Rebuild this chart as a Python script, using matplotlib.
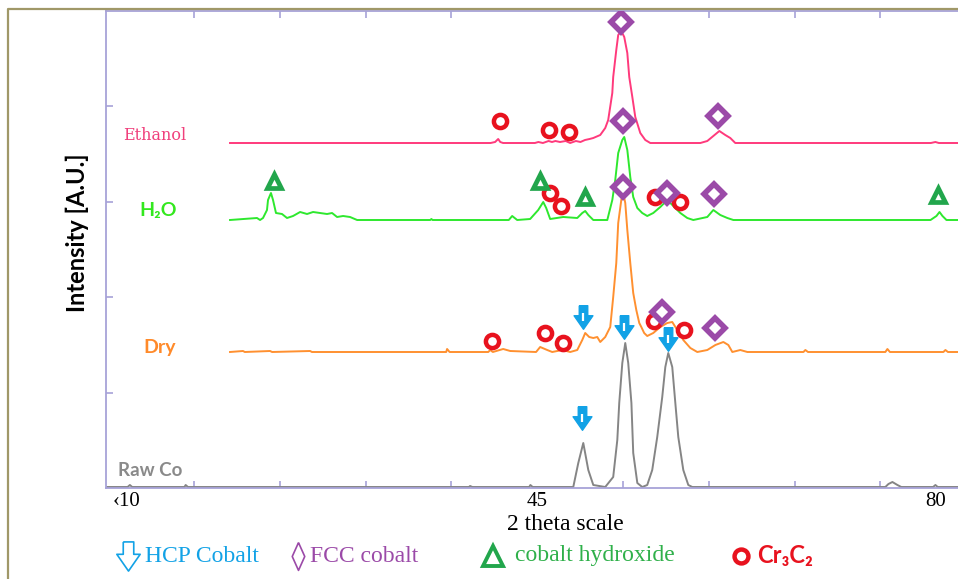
import matplotlib
matplotlib.use("Agg")
import matplotlib.pyplot as plt
from matplotlib.lines import Line2D
import matplotlib.transforms as mtransforms

# ---- XRD patterns (2 theta in deg, intensity in A.U.) ----
ethanol_2theta = [18.0, 40.9, 41.3, 41.57, 41.75, 42.0, 44.8, 45.1, 45.5, 46.0, 46.3, 46.6, 47.0,
                  47.5, 47.9, 48.4, 48.8, 49.2, 49.6, 49.93, 50.54, 50.98, 51.24, 51.60, 51.68,
                  51.95, 52.12, 52.39, 52.65, 52.92, 53.09, 53.36, 53.62, 54.06, 54.50, 54.94,
                  59.34, 59.95, 60.48, 61.01, 61.53, 61.97, 62.41, 79.6, 80.0, 80.3, 82.5]
ethanol_counts = [0, 0, 1, 4, 1, 0, 0, 1, 0, 2, 1, 2, 1,
                  2, 0, 2, 1, 3, 4, 5, 8, 15, 23, 50, 66,
                  93, 108, 112, 106, 90, 66, 46, 26, 10, 3, 0,
                  0, 2, 7, 12, 8, 5, 0, 0, 1, 0, 0]

h2o_2theta = [18.0, 20.37, 20.64, 20.9, 21.25, 21.34, 21.6, 21.78, 22.04, 22.57, 23.01, 23.54,
              24.16, 24.77, 25.3, 25.91, 26.53, 26.97, 27.41, 27.94, 28.55, 29.17, 35.6, 35.7,
              35.8, 42.5, 42.8, 43.24, 44.38, 45.09, 45.53, 45.79, 46.14, 47.29, 48.52, 48.96,
              49.22, 49.49, 49.93, 51.16, 51.60, 51.86, 52.12, 52.48, 52.65, 52.92, 53.18, 53.44,
              53.80, 54.23, 54.67, 55.20, 55.82, 56.26, 56.70, 57.14, 57.58, 58.19, 58.72, 59.95,
              60.48, 61.09, 61.71, 62.24, 79.57, 80.09, 80.36, 80.62, 80.97, 82.5]
h2o_counts = [0, 2, 0, 2, 10, 20, 27, 20, 7, 6, 2, 4,
              8, 6, 8, 7, 6, 7, 3, 4, 3, 0, 0, 1,
              0, 0, 4, 0, 1, 10, 18, 12, 1, 3, 2, 7,
              9, 5, 0, 0, 20, 40, 67, 80, 83, 70, 43, 23,
              12, 7, 4, 7, 13, 18, 17, 12, 7, 2, 0, 3,
              10, 5, 2, 0, 0, 4, 8, 4, 0, 0]

dry_2theta = [18.0, 19.14, 19.3, 21.52, 21.7, 25.04, 25.2, 37.0, 37.08, 37.3, 40.7, 40.87, 41.1,
              42.01, 42.63, 44.9, 45.26, 45.88, 46.32, 47.20, 47.90, 48.52, 48.96, 49.22, 49.57,
              49.93, 50.28, 50.54, 50.98, 51.42, 51.68, 51.95, 52.12, 52.39, 52.56, 52.74, 52.92,
              53.18, 53.44, 53.71, 53.97, 54.15, 54.4, 54.67, 55.20, 55.82, 56.43, 56.87, 57.31,
              57.84, 58.46, 59.07, 59.95, 60.66, 61.36, 61.80, 62.15, 62.85, 63.47, 68.4, 68.57,
              68.8, 75.6, 75.78, 76.0, 80.7, 80.88, 81.1, 82.5]
dry_counts = [0, 1, 0, 1, 0, 1, 0, 0, 3, 0, 0, 2, 0,
              3, 1, 0, 5, 2, 0, 2, 0, 2, 12, 19, 15,
              14, 15, 10, 15, 25, 55, 89, 129, 152, 159, 149, 122,
              89, 59, 42, 29, 25, 19, 16, 19, 25, 29, 30, 22,
              12, 4, 0, 2, 7, 10, 7, 0, 2, 0, 0, 2,
              0, 0, 3, 0, 0, 2, 0, 0]

raw_2theta = [7.1, 9.0, 9.2, 9.4, 14.0, 14.1, 14.3, 39.0, 39.1, 39.3, 44.3, 44.4, 44.6, 48.17,
              48.61, 49.05, 49.49, 49.93, 50.98, 51.68, 52.04, 52.21, 52.48, 52.74, 53.00, 53.28,
              53.44, 53.80, 54.23, 54.67, 55.11, 55.55, 55.99, 56.26, 56.52, 56.87, 57.14, 57.40,
              57.84, 58.28, 58.63, 75.6, 75.87, 76.22, 76.66, 77.0, 79.8, 80.0, 80.2, 82.5]
raw_counts = [0, 0, 2, 0, 0, 2, 0, 0, 1, 0, 0, 2, 0, 0,
              24, 44, 17, 2, 0, 10, 47, 84, 124, 144, 124, 84,
              34, 4, 0, 2, 17, 50, 90, 120, 134, 120, 84, 50,
              17, 2, 0, 0, 3, 5, 2, 0, 0, 2, 0, 0]

series_names = ["Ethanol", "H\u2082O", "Dry", "Raw Co"]
series_offsets = [345, 268, 136, 1]

# ---- phase identification markers (2 theta, absolute intensity) ----
cr3c2_2theta = [41.75, 46.06, 47.81, 46.14, 47.11, 55.38, 57.58, 41.04, 45.70, 47.29, 55.29, 57.93]
cr3c2_counts = [367, 358, 356, 295, 282, 291, 286, 147, 155, 145, 167, 158]
fcc_2theta = [52.39, 52.56, 60.92, 56.43, 60.57, 52.56, 55.99, 60.66]
fcc_counts = [466, 367, 372, 295, 294, 301, 176, 160]
hydroxide_2theta = [21.87, 45.26, 49.22, 80.27]
hydroxide_counts = [307, 307, 291, 293]
hcp_2theta = [49.05, 52.65, 56.52, 48.96]
hcp_counts = [171, 161, 149, 70]

legend_labels = ["HCP Cobalt", "FCC cobalt", "cobalt hydroxide", "Cr\u2083C\u2082"]
x_ticklabels = ["\u203910", "45", "80"]

# ---- style ----
curve_colors = ["#ff3a7c", "#2ee82e", "#ff9030", "#858585"]
label_colors = ["#f0407c", "#33e81e", "#ff8a2a", "#8a8a8a"]
red, purple, green, blue = "#e8121e", "#9b4aa8", "#22a64c", "#12a2e6"
frame = "#a7a2d8"

W, H = 958, 579
fig = plt.figure(figsize=(W / 100, H / 100), dpi=100)
ax = fig.add_axes([106 / W, (H - 488) / H, (965 - 106) / W, (488 - 11) / H])

xs = [ethanol_2theta, h2o_2theta, dry_2theta, raw_2theta]
ys = [ethanol_counts, h2o_counts, dry_counts, raw_counts]
for x, y, off, c in zip(xs, ys, series_offsets, curve_colors):
    ax.plot(x, [v + off for v in y], color=c, lw=1.4, zorder=2)

arrow = [(-0.36, 1), (0.36, 1), (0.36, 0.15), (0.8, 0.15), (0, -1),
         (-0.8, 0.15), (-0.36, 0.15), (-0.36, 1)]
ax.plot(cr3c2_2theta, cr3c2_counts, "o", ms=9.5, mfc="white", mec=red, mew=3.2, zorder=4)
ax.plot(fcc_2theta, fcc_counts, "D", ms=10, mfc="white", mec=purple, mew=4, zorder=4)
ax.plot(hydroxide_2theta, hydroxide_counts, "^", ms=10.5, mfc="white", mec=green, mew=3.4, zorder=4)
ax.plot(hcp_2theta, hcp_counts, marker=arrow, ls="none", ms=17, mfc=blue, mec=blue, mew=1, zorder=4)
ax.plot(hcp_2theta, hcp_counts, "|", ms=6, mec="white", mew=1.6, zorder=5)

ax.set_xlim(7.1, 82.6)
ax.set_ylim(0, 477)
for s in ["left", "bottom", "top"]:
    ax.spines[s].set_color(frame)
    ax.spines[s].set_linewidth(1.3)
ax.spines["right"].set_visible(False)

ax.set_xticks([10, 45, 80], x_ticklabels, fontfamily="Liberation Serif", fontsize=15)
ax.set_xticks([45 + 7.54 * k for k in range(-4, 5)], minor=True)
ax.tick_params(axis="x", which="major", length=0, pad=3)
ax.tick_params(axis="x", which="minor", direction="in", length=5, color=frame,
               top=True, bottom=True, width=1.2)
ax.set_yticks([95.5, 191, 286.5, 382], [])
ax.tick_params(axis="y", direction="in", length=5, color=frame, width=1.2)
lab0 = ax.get_xticklabels()[0]
lab0.set_transform(lab0.get_transform() + mtransforms.ScaledTranslation(-0.12, 0, fig.dpi_scale_trans))

# series names on the left
name_pos = [(11.4, 352), (11.7, 277), (11.8, 140), (11.0, 17)]
name_fonts = [dict(family="DejaVu Serif", size=11.5),
              dict(family=["Lato", "DejaVu Sans"], size=14, weight="bold"),
              dict(family="Lato", size=14, weight="bold"),
              dict(family="Lato", size=13.5, weight="bold")]
for name, (px, py), f, c in zip(series_names, name_pos, name_fonts, label_colors):
    ax.text(px, py, name, color=c, ha="center", va="center", **f)

fig.text(565 / W, 1 - 524 / H, "2 theta scale", ha="center", va="center",
         fontfamily="Liberation Serif", fontsize=17)
fig.text(77 / W, 1 - 233 / H, "Intensity [A.U.]", rotation=90, ha="center", va="center",
         fontfamily="Lato", fontweight="bold", fontsize=17)

# legend row
ly = 1 - 556 / H
fig.add_artist(Line2D([128 / W], [ly], marker=arrow, ms=21, mfc="white", mec=blue, mew=1.2,
                      transform=fig.transFigure))
fig.add_artist(Line2D([298 / W], [ly], marker=[(0, 1), (0.45, 0), (0, -1), (-0.45, 0), (0, 1)],
                      ms=20, mfc="white", mec=purple, mew=1.2, transform=fig.transFigure))
fig.add_artist(Line2D([493 / W], [ly], marker="^", ms=15, mfc="white", mec=green, mew=2.8,
                      transform=fig.transFigure))
fig.add_artist(Line2D([741 / W], [ly], marker="o", ms=10, mfc="white", mec=red, mew=3.2,
                      transform=fig.transFigure))
leg_x = [145, 310, 515, 757]
leg_c = [blue, purple, "#2fb04a", red]
for i, (t, x0, c) in enumerate(zip(legend_labels, leg_x, leg_c)):
    if i < 3:
        fig.text(x0 / W, ly, t, color=c, ha="left", va="center",
                 fontfamily="Liberation Serif", fontsize=17)
    else:
        fig.text(x0 / W, ly, t, color=c, ha="left", va="center",
                 fontfamily=["Lato", "DejaVu Sans"], fontweight="bold", fontsize=17)

# outer frame (top and left edges visible)
fig.add_artist(Line2D([8 / W, 8 / W, 1], [0, 1 - 9 / H, 1 - 9 / H], color="#a09868", lw=1.6,
                      transform=fig.transFigure))

fig.savefig("out.png", dpi=100)
